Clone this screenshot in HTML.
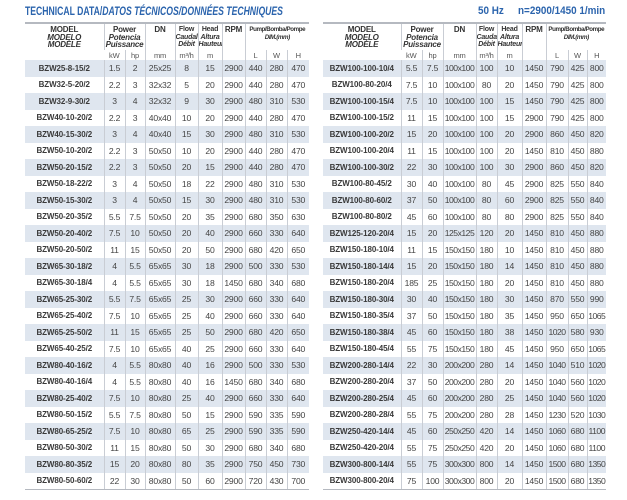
<!DOCTYPE html>
<html><head><meta charset="utf-8"><style>
body{margin:0;width:627px;height:500px;background:#fff;font-family:"Liberation Sans",sans-serif;position:relative;overflow:hidden}
.title{position:absolute;left:25px;top:4px;font-size:12px;font-weight:bold;color:#2b64ad;white-space:nowrap;transform:scaleX(0.72);transform-origin:0 0}
.hz{position:absolute;top:5px;font-size:11px;font-weight:bold;color:#2b64ad;white-space:nowrap;transform:scaleX(0.9);transform-origin:0 0}
table{position:absolute;top:22px;border-collapse:collapse;table-layout:fixed;color:#444;font-size:8.6px;letter-spacing:-0.2px}
td{padding:0;text-align:center;border-left:1px solid #c9cdd4;white-space:nowrap;overflow:hidden}
td:first-child{border-left:none}
tr.d td{height:16.5px}
tr.d td:first-child{font-weight:bold;color:#3a3a3a;font-size:8px;letter-spacing:-0.1px}
tr.s td{background:#dfe6ef}
tr.ha td{height:24px;font-weight:bold;font-size:8px;line-height:7.5px;color:#333;vertical-align:top;padding-top:2px}
tr.hb td{height:10px;font-size:7.5px;color:#555;vertical-align:middle}
td.mdl{font-weight:bold;font-size:8.6px;line-height:10.5px;color:#333;vertical-align:top;padding-top:3px}
i{font-style:italic}
thead tr:first-child td{border-top:2px solid #b5b9c0}
tbody tr:last-child td{border-bottom:1px solid #b5b9c0}
.dim{font-size:6.2px!important;letter-spacing:-0.4px}
.n{letter-spacing:-0.5px}
</style></head><body>
<div class="title">TECHNICAL DATA/<i>DATOS TÉCNICOS/DONNÉES TECHNIQUES</i></div>
<div class="hz" style="left:478px">50 Hz</div>
<div class="hz" style="left:518px">n=2900/1450 1/min</div>

<table style="left:25px;width:284px">
<colgroup><col style="width:79px"><col style="width:21px"><col style="width:20px"><col style="width:30px"><col style="width:23px"><col style="width:24px"><col style="width:23px"><col style="width:21px"><col style="width:21px"><col style="width:22px"></colgroup>
<thead>
<tr class="ha"><td class="mdl" rowspan="2">MODEL<br><i>MODELO</i><br><i>MODÈLE</i></td><td colspan="2">Power<br><i>Potencia<br>Puissance</i></td><td>DN</td><td style="font-size:7px">Flow<br><i>Caudal<br>Débit</i></td><td style="font-size:7px">Head<br><i>Altura<br>Hauteur</i></td><td>RPM</td><td colspan="3" class="dim">Pump/Bomba/Pompe<br><i>DIM.(mm)</i></td></tr>
<tr class="hb"><td>kW</td><td>hp</td><td>mm</td><td>m³/h</td><td>m</td><td></td><td>L</td><td>W</td><td>H</td></tr>
</thead>
<tbody>
<tr class="d s"><td>BZW25-8-15/2</td><td>1.5</td><td>2</td><td>25x25</td><td>8</td><td>15</td><td>2900</td><td>440</td><td>280</td><td>470</td></tr>
<tr class="d"><td>BZW32-5-20/2</td><td>2.2</td><td>3</td><td>32x32</td><td>5</td><td>20</td><td>2900</td><td>440</td><td>280</td><td>470</td></tr>
<tr class="d s"><td>BZW32-9-30/2</td><td>3</td><td>4</td><td>32x32</td><td>9</td><td>30</td><td>2900</td><td>480</td><td>310</td><td>530</td></tr>
<tr class="d"><td>BZW40-10-20/2</td><td>2.2</td><td>3</td><td>40x40</td><td>10</td><td>20</td><td>2900</td><td>440</td><td>280</td><td>470</td></tr>
<tr class="d s"><td>BZW40-15-30/2</td><td>3</td><td>4</td><td>40x40</td><td>15</td><td>30</td><td>2900</td><td>480</td><td>310</td><td>530</td></tr>
<tr class="d"><td>BZW50-10-20/2</td><td>2.2</td><td>3</td><td>50x50</td><td>10</td><td>20</td><td>2900</td><td>440</td><td>280</td><td>470</td></tr>
<tr class="d s"><td>BZW50-20-15/2</td><td>2.2</td><td>3</td><td>50x50</td><td>20</td><td>15</td><td>2900</td><td>440</td><td>280</td><td>470</td></tr>
<tr class="d"><td>BZW50-18-22/2</td><td>3</td><td>4</td><td>50x50</td><td>18</td><td>22</td><td>2900</td><td>480</td><td>310</td><td>530</td></tr>
<tr class="d s"><td>BZW50-15-30/2</td><td>3</td><td>4</td><td>50x50</td><td>15</td><td>30</td><td>2900</td><td>480</td><td>310</td><td>530</td></tr>
<tr class="d"><td>BZW50-20-35/2</td><td>5.5</td><td>7.5</td><td>50x50</td><td>20</td><td>35</td><td>2900</td><td>680</td><td>350</td><td>630</td></tr>
<tr class="d s"><td>BZW50-20-40/2</td><td>7.5</td><td>10</td><td>50x50</td><td>20</td><td>40</td><td>2900</td><td>660</td><td>330</td><td>640</td></tr>
<tr class="d"><td>BZW50-20-50/2</td><td>11</td><td>15</td><td>50x50</td><td>20</td><td>50</td><td>2900</td><td>680</td><td>420</td><td>650</td></tr>
<tr class="d s"><td>BZW65-30-18/2</td><td>4</td><td>5.5</td><td>65x65</td><td>30</td><td>18</td><td>2900</td><td>500</td><td>330</td><td>530</td></tr>
<tr class="d"><td>BZW65-30-18/4</td><td>4</td><td>5.5</td><td>65x65</td><td>30</td><td>18</td><td>1450</td><td>680</td><td>340</td><td>680</td></tr>
<tr class="d s"><td>BZW65-25-30/2</td><td>5.5</td><td>7.5</td><td>65x65</td><td>25</td><td>30</td><td>2900</td><td>660</td><td>330</td><td>640</td></tr>
<tr class="d"><td>BZW65-25-40/2</td><td>7.5</td><td>10</td><td>65x65</td><td>25</td><td>40</td><td>2900</td><td>660</td><td>330</td><td>640</td></tr>
<tr class="d s"><td>BZW65-25-50/2</td><td>11</td><td>15</td><td>65x65</td><td>25</td><td>50</td><td>2900</td><td>680</td><td>420</td><td>650</td></tr>
<tr class="d"><td>BZW65-40-25/2</td><td>7.5</td><td>10</td><td>65x65</td><td>40</td><td>25</td><td>2900</td><td>660</td><td>330</td><td>640</td></tr>
<tr class="d s"><td>BZW80-40-16/2</td><td>4</td><td>5.5</td><td>80x80</td><td>40</td><td>16</td><td>2900</td><td>500</td><td>330</td><td>530</td></tr>
<tr class="d"><td>BZW80-40-16/4</td><td>4</td><td>5.5</td><td>80x80</td><td>40</td><td>16</td><td>1450</td><td>680</td><td>340</td><td>680</td></tr>
<tr class="d s"><td>BZW80-25-40/2</td><td>7.5</td><td>10</td><td>80x80</td><td>25</td><td>40</td><td>2900</td><td>660</td><td>330</td><td>640</td></tr>
<tr class="d"><td>BZW80-50-15/2</td><td>5.5</td><td>7.5</td><td>80x80</td><td>50</td><td>15</td><td>2900</td><td>590</td><td>335</td><td>590</td></tr>
<tr class="d s"><td>BZW80-65-25/2</td><td>7.5</td><td>10</td><td>80x80</td><td>65</td><td>25</td><td>2900</td><td>590</td><td>335</td><td>590</td></tr>
<tr class="d"><td>BZW80-50-30/2</td><td>11</td><td>15</td><td>80x80</td><td>50</td><td>30</td><td>2900</td><td>680</td><td>340</td><td>680</td></tr>
<tr class="d s"><td>BZW80-80-35/2</td><td>15</td><td>20</td><td>80x80</td><td>80</td><td>35</td><td>2900</td><td>750</td><td>450</td><td>730</td></tr>
<tr class="d"><td>BZW80-50-60/2</td><td>22</td><td>30</td><td>80x80</td><td>50</td><td>60</td><td>2900</td><td>720</td><td>430</td><td>700</td></tr>
</tbody></table>

<table style="left:323px;width:283px">
<colgroup><col style="width:78px"><col style="width:21px"><col style="width:21px"><col style="width:33px"><col style="width:21px"><col style="width:25px"><col style="width:24px"><col style="width:22px"><col style="width:19px"><col style="width:19px"></colgroup>
<thead>
<tr class="ha"><td class="mdl" rowspan="2">MODEL<br><i>MODELO</i><br><i>MODÈLE</i></td><td colspan="2">Power<br><i>Potencia<br>Puissance</i></td><td>DN</td><td style="font-size:7px">Flow<br><i>Caudal<br>Débit</i></td><td style="font-size:7px">Head<br><i>Altura<br>Hauteur</i></td><td>RPM</td><td colspan="3" class="dim">Pump/Bomba/Pompe<br><i>DIM.(mm)</i></td></tr>
<tr class="hb"><td>kW</td><td>hp</td><td>mm</td><td>m³/h</td><td>m</td><td></td><td>L</td><td>W</td><td>H</td></tr>
</thead>
<tbody class="r">
<tr class="d s"><td>BZW100-100-10/4</td><td>5.5</td><td>7.5</td><td class="n">100x100</td><td>100</td><td>10</td><td>1450</td><td>790</td><td>425</td><td>800</td></tr>
<tr class="d"><td>BZW100-80-20/4</td><td>7.5</td><td>10</td><td class="n">100x100</td><td>80</td><td>20</td><td>1450</td><td>790</td><td>425</td><td>800</td></tr>
<tr class="d s"><td>BZW100-100-15/4</td><td>7.5</td><td>10</td><td class="n">100x100</td><td>100</td><td>15</td><td>1450</td><td>790</td><td>425</td><td>800</td></tr>
<tr class="d"><td>BZW100-100-15/2</td><td>11</td><td>15</td><td class="n">100x100</td><td>100</td><td>15</td><td>2900</td><td>790</td><td>425</td><td>800</td></tr>
<tr class="d s"><td>BZW100-100-20/2</td><td>15</td><td>20</td><td class="n">100x100</td><td>100</td><td>20</td><td>2900</td><td>860</td><td>450</td><td>820</td></tr>
<tr class="d"><td>BZW100-100-20/4</td><td>11</td><td>15</td><td class="n">100x100</td><td>100</td><td>20</td><td>1450</td><td>810</td><td>450</td><td>880</td></tr>
<tr class="d s"><td>BZW100-100-30/2</td><td>22</td><td>30</td><td class="n">100x100</td><td>100</td><td>30</td><td>2900</td><td>860</td><td>450</td><td>820</td></tr>
<tr class="d"><td>BZW100-80-45/2</td><td>30</td><td>40</td><td class="n">100x100</td><td>80</td><td>45</td><td>2900</td><td>825</td><td>550</td><td>840</td></tr>
<tr class="d s"><td>BZW100-80-60/2</td><td>37</td><td>50</td><td class="n">100x100</td><td>80</td><td>60</td><td>2900</td><td>825</td><td>550</td><td>840</td></tr>
<tr class="d"><td>BZW100-80-80/2</td><td>45</td><td>60</td><td class="n">100x100</td><td>80</td><td>80</td><td>2900</td><td>825</td><td>550</td><td>840</td></tr>
<tr class="d s"><td>BZW125-120-20/4</td><td>15</td><td>20</td><td class="n">125x125</td><td>120</td><td>20</td><td>1450</td><td>810</td><td>450</td><td>880</td></tr>
<tr class="d"><td>BZW150-180-10/4</td><td>11</td><td>15</td><td class="n">150x150</td><td>180</td><td>10</td><td>1450</td><td>810</td><td>450</td><td>880</td></tr>
<tr class="d s"><td>BZW150-180-14/4</td><td>15</td><td>20</td><td class="n">150x150</td><td>180</td><td>14</td><td>1450</td><td>810</td><td>450</td><td>880</td></tr>
<tr class="d"><td>BZW150-180-20/4</td><td>185</td><td>25</td><td class="n">150x150</td><td>180</td><td>20</td><td>1450</td><td>810</td><td>450</td><td>880</td></tr>
<tr class="d s"><td>BZW150-180-30/4</td><td>30</td><td>40</td><td class="n">150x150</td><td>180</td><td>30</td><td>1450</td><td>870</td><td>550</td><td>990</td></tr>
<tr class="d"><td>BZW150-180-35/4</td><td>37</td><td>50</td><td class="n">150x150</td><td>180</td><td>35</td><td>1450</td><td>950</td><td>650</td><td class="n">1065</td></tr>
<tr class="d s"><td>BZW150-180-38/4</td><td>45</td><td>60</td><td class="n">150x150</td><td>180</td><td>38</td><td>1450</td><td class="n">1020</td><td>580</td><td>930</td></tr>
<tr class="d"><td>BZW150-180-45/4</td><td>55</td><td>75</td><td class="n">150x150</td><td>180</td><td>45</td><td>1450</td><td>950</td><td>650</td><td class="n">1065</td></tr>
<tr class="d s"><td>BZW200-280-14/4</td><td>22</td><td>30</td><td class="n">200x200</td><td>280</td><td>14</td><td>1450</td><td class="n">1040</td><td>510</td><td class="n">1020</td></tr>
<tr class="d"><td>BZW200-280-20/4</td><td>37</td><td>50</td><td class="n">200x200</td><td>280</td><td>20</td><td>1450</td><td class="n">1040</td><td>560</td><td class="n">1020</td></tr>
<tr class="d s"><td>BZW200-280-25/4</td><td>45</td><td>60</td><td class="n">200x200</td><td>280</td><td>25</td><td>1450</td><td class="n">1040</td><td>560</td><td class="n">1020</td></tr>
<tr class="d"><td>BZW200-280-28/4</td><td>55</td><td>75</td><td class="n">200x200</td><td>280</td><td>28</td><td>1450</td><td class="n">1230</td><td>520</td><td class="n">1030</td></tr>
<tr class="d s"><td>BZW250-420-14/4</td><td>45</td><td>60</td><td class="n">250x250</td><td>420</td><td>14</td><td>1450</td><td class="n">1060</td><td>680</td><td class="n">1100</td></tr>
<tr class="d"><td>BZW250-420-20/4</td><td>55</td><td>75</td><td class="n">250x250</td><td>420</td><td>20</td><td>1450</td><td class="n">1060</td><td>680</td><td class="n">1100</td></tr>
<tr class="d s"><td>BZW300-800-14/4</td><td>55</td><td>75</td><td class="n">300x300</td><td>800</td><td>14</td><td>1450</td><td class="n">1500</td><td>680</td><td class="n">1350</td></tr>
<tr class="d"><td>BZW300-800-20/4</td><td>75</td><td>100</td><td class="n">300x300</td><td>800</td><td>20</td><td>1450</td><td class="n">1500</td><td>680</td><td class="n">1350</td></tr>
</tbody></table>
</body></html>
